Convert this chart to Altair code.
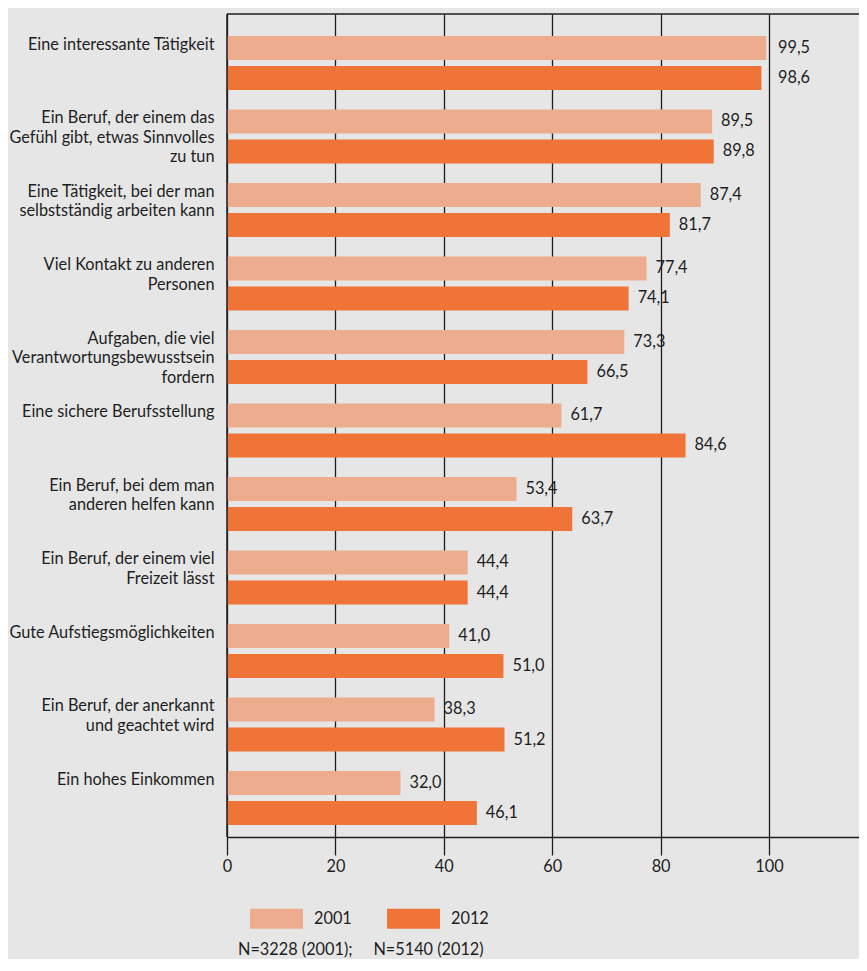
import altair as alt
import pandas as pd

categories = [
    "Eine interessante Tätigkeit",
    "Ein Beruf, der einem das\u00a0\nGefühl gibt, etwas Sinnvolles\nzu tun",
    "Eine Tätigkeit, bei der man\nselbstständig arbeiten kann",
    "Viel Kontakt zu anderen\nPersonen",
    "Aufgaben, die viel\u00a0\nVerantwortungsbewusstsein\nfordern",
    "Eine sichere Berufsstellung",
    "Ein Beruf, bei dem man\nanderen helfen kann",
    "Ein Beruf, der einem viel\u00a0\nFreizeit lässt",
    "Gute Aufstiegsmöglichkeiten",
    "Ein Beruf, der anerkannt\nund geachtet wird",
    "Ein hohes Einkommen",
]
values_2001 = [99.5, 89.5, 87.4, 77.4, 73.3, 61.7, 53.4, 44.4, 41.0, 38.3, 32.0]
values_2012 = [98.6, 89.8, 81.7, 74.1, 66.5, 84.6, 63.7, 44.4, 51.0, 51.2, 46.1]
years = ["2001", "2012"]
colors = ["#ECAC8D", "#F07337"]
x_ticks = [0, 20, 40, 60, 80, 100]
note = "N=3228 (2001);\u00a0\u00a0\u00a0\u00a0\u00a0N=5140 (2012)"

FONT = "Lato, Liberation Sans, sans-serif"
FS = 16.3
INK = "#1e1e1e"
W, H = 632, 823
PAD = {"left": 219, "top": 6, "right": 0, "bottom": 122}

rows = []
for i, c in enumerate(categories):
    rows.append({"cat": c, "year": years[0], "value": values_2001[i]})
    rows.append({"cat": c, "year": years[1], "value": values_2012[i]})
df = pd.DataFrame(rows)

y_enc = alt.Y(
    "cat:N",
    sort=categories,
    scale=alt.Scale(paddingInner=0.265, paddingOuter=0.231, align=0.647),
    axis=alt.Axis(
        title=None,
        ticks=False,
        domain=False,
        labelPadding=13,
        labelFont=FONT,
        labelFontSize=FS,
        labelColor=INK,
        labelLineHeight=19.5,
        labelBaseline="top",
        labelAlign="right",
        labelOffset=-26,
        labelLimit=260,
        labelOverlap=False,
        labelExpr="split(datum.label, '\\n')",
    ),
)
yoff_enc = alt.YOffset("year:N", sort=years, scale=alt.Scale(paddingInner=0.2, paddingOuter=0))
x_enc = alt.X(
    "value:Q",
    scale=alt.Scale(domain=[0, 116.6], nice=False, zero=True),
    axis=alt.Axis(
        title=None,
        values=x_ticks,
        grid=True,
        gridColor=INK,
        gridWidth=1.3,
        gridOpacity=1,
        domainColor=INK,
        domainWidth=1.5,
        tickColor=INK,
        tickWidth=1.3,
        tickSize=18,
        labelPadding=3,
        labelFont=FONT,
        labelFontSize=FS,
        labelColor=INK,
        labelFlush=False,
    ),
)

base = alt.Chart(df)

bars = base.mark_bar(height=alt.RelativeBandSize(1.0)).encode(
    x=x_enc,
    y=y_enc,
    yOffset=yoff_enc,
    color=alt.Color(
        "year:N",
        scale=alt.Scale(domain=years, range=colors),
        legend=alt.Legend(
            orient="none",
            legendX=23,
            legendY=878,
            direction="horizontal",
            title=None,
            symbolType="M-1,-0.377L1,-0.377L1,0.377L-1,0.377Z",
            symbolSize=2809,
            symbolStrokeWidth=0,
            symbolOpacity=1,
            labelFont=FONT,
            labelFontSize=FS,
            labelColor=INK,
            labelOffset=11,
            columnPadding=35,
        ),
    ),
)

labels = base.transform_calculate(
    lx="datum.value > 95 ? 100 : datum.value",
    lab="replace(format(datum.value, '.1f'), '.', ',')",
).mark_text(align="left", baseline="middle", dx=9, font=FONT, fontSize=FS, color=INK).encode(
    x=alt.X("lx:Q"),
    y=alt.Y("cat:N", sort=categories),
    yOffset=alt.YOffset("year:N", sort=years),
    text="lab:N",
)

frame_top = alt.Chart(pd.DataFrame({"k": [0]})).mark_rule(color=INK, strokeWidth=1.5).encode(
    x=alt.value(0), x2=alt.value(W), y=alt.value(0)
)
frame_left = alt.Chart(pd.DataFrame({"k": [0]})).mark_rule(color=INK, strokeWidth=1.5).encode(
    x=alt.value(0), y=alt.value(0), y2=alt.value(H)
)

note_text = alt.Chart(pd.DataFrame({"t": [note]})).mark_text(
    align="left", baseline="alphabetic", font=FONT, fontSize=FS, color=INK
).encode(x=alt.value(11), y=alt.value(941), text="t:N")

chart = (
    alt.layer(bars, labels, frame_top, frame_left, note_text)
    .properties(
        width=W,
        height=H,
        padding=PAD,
        autosize=alt.AutoSizeParams(type="none"),
    )
    .configure(background="#E6E6E6")
    .configure_view(stroke=None)
)

chart.save("out.html", embed_options={"renderer": "svg", "actions": False})
